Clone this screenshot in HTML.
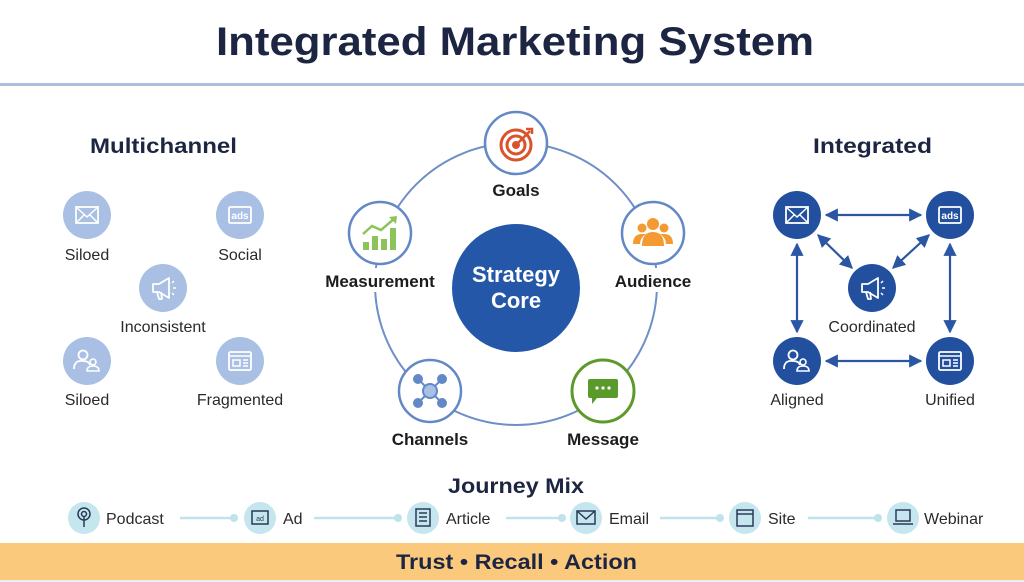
<!DOCTYPE html>
<html><head><meta charset="utf-8"><style>
html,body{margin:0;padding:0;background:#fff;}
svg{display:block}
text{font-family:"Liberation Sans",sans-serif;}
</style></head><body>
<svg width="1024" height="582" viewBox="0 0 1024 582" xmlns="http://www.w3.org/2000/svg">
<defs>
<marker id="ah" viewBox="0 0 10 10" refX="9" refY="5" markerWidth="6" markerHeight="6" orient="auto-start-reverse"><path d="M0,0 L10,5 L0,10 z" fill="#2a56a3"/></marker>
<g id="env"><rect x="-11" y="-8" width="22" height="16" fill="none" stroke="#fff" stroke-width="1.8"/><path d="M-11,-8 L0,2 L11,-8 M-11,8 L-3,0 M11,8 L3,0" fill="none" stroke="#fff" stroke-width="1.5"/></g>
<g id="ads"><rect x="-11" y="-8" width="22" height="16" rx="1.5" fill="none" stroke="#fff" stroke-width="1.8"/><text x="0" y="4" font-size="10" fill="#fff" text-anchor="middle" font-weight="bold">ads</text></g>
<g id="meg"><path d="M-10,-4 L-4,-4 L6,-10 L6,10 L-4,4 L-10,4 Z M-6,4 L-4,11 L-1,11 L-2,4" fill="none" stroke="#fff" stroke-width="1.8" stroke-linejoin="round"/><path d="M9,-5 L11,-7 M10,0 L13,0 M9,5 L11,7" stroke="#fff" stroke-width="1.5"/></g>
<g id="ppl"><circle cx="-4" cy="-6" r="4.5" fill="none" stroke="#fff" stroke-width="1.8"/><path d="M-13,8 Q-13,-1 -4,0 Q2,0 3,4" fill="none" stroke="#fff" stroke-width="1.8"/><circle cx="6" cy="1" r="3" fill="none" stroke="#fff" stroke-width="1.6"/><path d="M0,10 Q0,5 6,5 Q12,5 12,10 Z" fill="none" stroke="#fff" stroke-width="1.6"/></g>
<g id="web"><rect x="-11" y="-9" width="22" height="18" rx="1.5" fill="none" stroke="#fff" stroke-width="1.8"/><path d="M-11,-5 L11,-5" stroke="#fff" stroke-width="1.5"/><rect x="-7" y="-1" width="7" height="6" fill="none" stroke="#fff" stroke-width="1.5"/><path d="M3,-1 L8,-1 M3,2 L8,2 M3,5 L8,5" stroke="#fff" stroke-width="1.5"/></g>
</defs>

<text x="216" y="55" font-size="40" font-weight="bold" fill="#1c2541" textLength="598" lengthAdjust="spacingAndGlyphs">Integrated Marketing System</text>
<rect x="0" y="83" width="1024" height="3" fill="#a9bfdc"/>

<!-- Left -->
<text x="90" y="153" font-size="21" font-weight="bold" fill="#1c2541" textLength="147" lengthAdjust="spacingAndGlyphs">Multichannel</text>
<g fill="#a9c0e4">
<circle cx="87" cy="215" r="24"/><circle cx="240" cy="215" r="24"/><circle cx="163" cy="288" r="24"/><circle cx="87" cy="361" r="24"/><circle cx="240" cy="361" r="24"/></g>
<use href="#env" x="87" y="215"/><use href="#ads" x="240" y="215"/><use href="#meg" x="163" y="288"/><use href="#ppl" x="87" y="361"/><use href="#web" x="240" y="361"/>
<g font-size="16" fill="#2a2a2a" text-anchor="middle">
<text x="87" y="260">Siloed</text><text x="240" y="260">Social</text><text x="163" y="332">Inconsistent</text><text x="87" y="405">Siloed</text><text x="240" y="405">Fragmented</text></g>

<!-- Center -->
<circle cx="516" cy="284" r="141" fill="none" stroke="#6f90c6" stroke-width="2"/>
<rect x="440" y="176" width="152" height="22" fill="#fff"/>
<rect x="312" y="268" width="136" height="24" fill="#fff"/>
<rect x="600" y="268" width="106" height="24" fill="#fff"/>
<rect x="380" y="426" width="100" height="22" fill="#fff"/>
<rect x="556" y="426" width="96" height="22" fill="#fff"/>
<circle cx="516" cy="288" r="64" fill="#2457a8"/>
<text x="516" y="282" font-size="22" font-weight="bold" fill="#fff" text-anchor="middle">Strategy</text>
<text x="516" y="308" font-size="22" font-weight="bold" fill="#fff" text-anchor="middle">Core</text>
<g fill="#fff" stroke="#6288c6" stroke-width="2.5">
<circle cx="516" cy="143" r="31"/><circle cx="380" cy="233" r="31"/><circle cx="653" cy="233" r="31"/><circle cx="430" cy="391" r="31"/></g>
<circle cx="603" cy="391" r="31" fill="#fff" stroke="#5e9a2a" stroke-width="3"/>
<g fill="none" stroke="#d9532c" stroke-width="3"><circle cx="516" cy="145" r="15"/><circle cx="516" cy="145" r="9"/></g>
<circle cx="516" cy="145" r="4" fill="#d9532c"/><path d="M516,145 L530,131 M526,129 L532,129 L532,134" stroke="#d9532c" stroke-width="2.5" fill="none"/>
<g fill="#8dc45a"><rect x="363" y="242" width="6" height="8"/><rect x="372" y="236" width="6" height="14"/><rect x="381" y="239" width="6" height="11"/><rect x="390" y="228" width="6" height="22"/></g>
<path d="M363,234 L372,226 L381,230 L395,218" stroke="#8dc45a" stroke-width="2.5" fill="none"/><path d="M389,217 L397,216 L396,224" fill="#8dc45a"/>
<g fill="#f39a33"><circle cx="653" cy="224" r="6"/><circle cx="642" cy="228" r="4.5"/><circle cx="664" cy="228" r="4.5"/><path d="M642,246 Q642,232 653,232 Q664,232 664,246Z"/><path d="M633,244 Q633,234 642,234 L646,234 Q640,238 640,244Z"/><path d="M673,244 Q673,234 664,234 L660,234 Q666,238 666,244Z"/></g>
<g stroke="#6288c6" stroke-width="2" fill="#6288c6"><path d="M418,379 L442,403 M442,379 L418,403"/><circle cx="418" cy="379" r="4"/><circle cx="442" cy="379" r="4"/><circle cx="418" cy="403" r="4"/><circle cx="442" cy="403" r="4"/><circle cx="430" cy="391" r="7" fill="#a9c0e4"/></g>
<path d="M590,379 h26 a2,2 0 0 1 2,2 v15 a2,2 0 0 1 -2,2 h-19 l-5,6 v-6 h-2 a2,2 0 0 1 -2,-2 v-15 a2,2 0 0 1 2,-2z" fill="#5a9a2a"/>
<g fill="#fff"><circle cx="597" cy="388" r="1.6"/><circle cx="603" cy="388" r="1.6"/><circle cx="609" cy="388" r="1.6"/></g>
<g font-size="17" font-weight="bold" fill="#1c1c1c" text-anchor="middle">
<text x="516" y="196">Goals</text><text x="380" y="287">Measurement</text><text x="653" y="287">Audience</text><text x="430" y="445">Channels</text><text x="603" y="445">Message</text></g>

<!-- Right -->
<text x="813" y="153" font-size="21" font-weight="bold" fill="#1c2541" textLength="119" lengthAdjust="spacingAndGlyphs">Integrated</text>
<g stroke="#2a56a3" stroke-width="2.2" marker-start="url(#ah)" marker-end="url(#ah)">
<line x1="826" y1="215" x2="921" y2="215"/><line x1="826" y1="361" x2="921" y2="361"/>
<line x1="797" y1="244" x2="797" y2="332"/><line x1="950" y1="244" x2="950" y2="332"/>
<line x1="818" y1="235" x2="852" y2="268"/><line x1="929" y1="235" x2="893" y2="268"/></g>
<g fill="#23509e"><circle cx="797" cy="215" r="24"/><circle cx="950" cy="215" r="24"/><circle cx="872" cy="288" r="24"/><circle cx="797" cy="361" r="24"/><circle cx="950" cy="361" r="24"/></g>
<use href="#env" x="797" y="215"/><use href="#ads" x="950" y="215"/><use href="#meg" x="872" y="288"/><use href="#ppl" x="797" y="361"/><use href="#web" x="950" y="361"/>
<g font-size="16" fill="#2a2a2a" text-anchor="middle">
<text x="872" y="332">Coordinated</text><text x="797" y="405">Aligned</text><text x="950" y="405">Unified</text></g>

<!-- Journey -->
<text x="448" y="493" font-size="21" font-weight="bold" fill="#1c2541" textLength="136" lengthAdjust="spacingAndGlyphs">Journey Mix</text>
<g stroke="#bfe3ec" stroke-width="2.5">
<line x1="180" y1="518" x2="232" y2="518"/><line x1="314" y1="518" x2="396" y2="518"/><line x1="506" y1="518" x2="560" y2="518"/><line x1="660" y1="518" x2="718" y2="518"/><line x1="808" y1="518" x2="876" y2="518"/></g>
<g fill="#bfe3ec"><circle cx="234" cy="518" r="4"/><circle cx="398" cy="518" r="4"/><circle cx="562" cy="518" r="4"/><circle cx="720" cy="518" r="4"/><circle cx="878" cy="518" r="4"/></g>
<g fill="#c5e6ee"><circle cx="84" cy="518" r="16"/><circle cx="260" cy="518" r="16"/><circle cx="423" cy="518" r="16"/><circle cx="586" cy="518" r="16"/><circle cx="745" cy="518" r="16"/><circle cx="903" cy="518" r="16"/></g>
<g stroke="#2a3a55" stroke-width="1.5" fill="none">
<circle cx="84" cy="514" r="6"/><circle cx="84" cy="514" r="2.5"/><path d="M84,517 L84,527"/>
<rect x="252" y="511" width="16" height="13"/>
<rect x="416" y="509" width="14" height="17"/><path d="M419,513 h8 M419,517 h8 M419,521 h8"/>
<rect x="577" y="511" width="18" height="13"/><path d="M577,511 L586,519 L595,511"/>
<rect x="737" y="510" width="16" height="16"/><path d="M737,514 h16"/>
<rect x="896" y="510" width="14" height="11"/><path d="M893,524 h20"/></g>
<text x="260" y="521" font-size="7" fill="#2a3a55" text-anchor="middle">ad</text>
<g font-size="16" fill="#2a2a2a">
<text x="106" y="524">Podcast</text><text x="283" y="524">Ad</text><text x="446" y="524">Article</text><text x="609" y="524">Email</text><text x="768" y="524">Site</text><text x="924" y="524">Webinar</text></g>

<rect x="0" y="543" width="1024" height="37" fill="#fbc97c"/>
<rect x="0" y="580" width="1024" height="2" fill="#e9eef5"/>
<text x="396" y="569" font-size="21" font-weight="bold" fill="#1c2541" textLength="241" lengthAdjust="spacingAndGlyphs">Trust • Recall • Action</text>
</svg>
</body></html>
